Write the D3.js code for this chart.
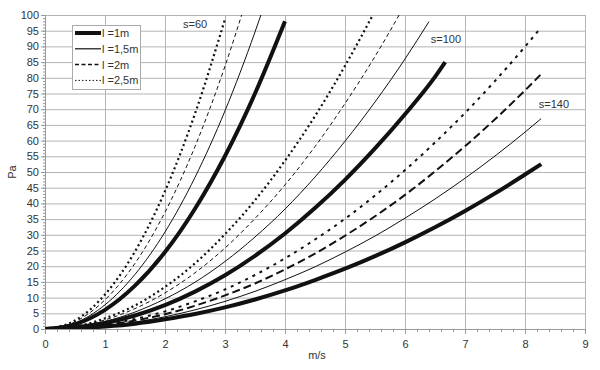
<!DOCTYPE html>
<html>
<head>
<meta charset="utf-8">
<script src="https://cdn.jsdelivr.net/npm/d3@7"></script>
<style>
  body { margin: 0; background: #fff; }
  text { font-family: "Liberation Sans", Arial, sans-serif; fill: #333; }
</style>
</head>
<body>
<div id="chart"></div>
<script>
// pressure drop (Pa) against speed (m/s)
var s60_l1  = [[0,0],[0.5,1.5],[1,6.1],[1.5,13.8],[2,24.5],[2.5,38.3],[3,55.1],[3.5,75],[4,98]];
var s60_l15 = [[0,0],[0.5,1.9],[1,7.7],[1.5,17.4],[2,30.9],[2.5,48.3],[3,69.5],[3.5,94.6],[3.7,105.7]];
var s60_l2  = [[0,0],[0.5,2.3],[1,9.3],[1.5,20.9],[2,37.2],[2.5,58.1],[3,83.7],[3.4,107.5]];
var s60_l25 = [[0,0],[0.5,2.7],[1,11],[1.5,24.7],[2,43.9],[2.5,68.6],[3,98.7]];

var s100_l1  = [[0,0],[0.5,0.5],[1,1.9],[1.5,4.3],[2,7.6],[2.5,11.9],[3,17.1],[3.5,23.3],[4,30.4],[4.5,38.5],[5,47.5],[5.5,57.5],[6,68.4],[6.5,80.3],[6.67,85]];
var s100_l15 = [[0,0],[0.5,0.6],[1,2.4],[1.5,5.4],[2,9.6],[2.5,14.9],[3,21.5],[3.5,29.3],[4,38.2],[4.5,48.4],[5,59.8],[5.5,72.3],[6,86],[6.4,97.9]];
var s100_l2  = [[0,0],[0.5,0.7],[1,2.9],[1.5,6.5],[2,11.5],[2.5,17.9],[3,25.8],[3.5,35.2],[4,45.9],[4.5,58.1],[5,71.8],[5.5,86.8],[6,103.3]];
var s100_l25 = [[0,0],[0.5,0.8],[1,3.4],[1.5,7.5],[2,13.4],[2.5,20.9],[3,30.2],[3.5,41],[4,53.6],[4.5,67.8],[5,83.8],[5.5,101.3]];

var s140_l1  = [[0,0],[0.5,0.2],[1,0.8],[1.5,1.7],[2,3.1],[2.5,4.8],[3,6.9],[3.5,9.4],[4,12.3],[4.5,15.6],[5,19.2],[5.5,23.2],[6,27.6],[6.5,32.4],[7,37.6],[7.5,43.2],[8,49.2],[8.27,52.5]];
var s140_l15 = [[0,0],[0.5,0.2],[1,1],[1.5,2.2],[2,3.9],[2.5,6.1],[3,8.8],[3.5,12],[4,15.7],[4.5,19.8],[5,24.5],[5.5,29.6],[6,35.3],[6.5,41.4],[7,48],[7.5,55.1],[8,62.7],[8.27,67]];
var s140_l2  = [[0,0],[0.5,0.3],[1,1.2],[1.5,2.7],[2,4.7],[2.5,7.4],[3,10.7],[3.5,14.5],[4,19],[4.5,24],[5,29.7],[5.5,35.9],[6,42.7],[6.5,50.2],[7,58.2],[7.5,66.8],[8,76],[8.27,81.2]];
var s140_l25 = [[0,0],[0.5,0.4],[1,1.4],[1.5,3.2],[2,5.6],[2.5,8.8],[3,12.6],[3.5,17.2],[4,22.5],[4.5,28.5],[5,35.1],[5.5,42.5],[6,50.6],[6.5,59.4],[7,68.8],[7.5,79],[8,89.9],[8.27,96.1]];

var lengths = ["l =1m", "l =1,5m", "l =2m", "l =2,5m"];
var groupLabels = ["s=60", "s=100", "s=140"];
var xTicks = [0,1,2,3,4,5,6,7,8,9];
var yTicks = [0,5,10,15,20,25,30,35,40,45,50,55,60,65,70,75,80,85,90,95,100];

var margin = {top: 15, right: 15, bottom: 41, left: 45},
    width = 540,
    height = 314;

var svg = d3.select("#chart")
    .append("svg")
    .attr("width", 600)
    .attr("height", 370);

var g = svg.append("g")
    .attr("transform", "translate(" + margin.left + "," + margin.top + ")");

var x = d3.scaleLinear().domain([0, 9]).range([0, width]);
var y = d3.scaleLinear().domain([0, 100]).range([height, 0]);

// grid
g.selectAll(".hgrid").data(yTicks).enter().append("line")
    .attr("x1", 0).attr("x2", width)
    .attr("y1", function (d) { return y(d) + 0.5; })
    .attr("y2", function (d) { return y(d) + 0.5; })
    .attr("stroke", "#b4b4b4").attr("stroke-width", 1);
g.selectAll(".vgrid").data(xTicks).enter().append("line")
    .attr("y1", 0).attr("y2", height)
    .attr("x1", function (d) { return x(d) + 0.5; })
    .attr("x2", function (d) { return x(d) + 0.5; })
    .attr("stroke", "#b4b4b4").attr("stroke-width", 1);

// axes
var xAxis = d3.axisBottom(x).tickValues(xTicks).tickSize(5).tickPadding(6);
g.append("g").attr("transform", "translate(0," + height + ")").call(xAxis);
var xMinor = d3.axisBottom(x).tickValues(d3.range(0, 45).map(function (i) { return i / 5; }))
    .tickSize(3).tickFormat("");
g.append("g").attr("transform", "translate(0," + height + ")").call(xMinor);

var yAxis = d3.axisLeft(y).tickValues(yTicks).tickSize(4).tickPadding(2);
g.append("g").call(yAxis);
var yMinor = d3.axisLeft(y).tickValues(d3.range(0, 101)).tickSize(2).tickFormat("");
g.append("g").call(yMinor);

g.selectAll(".domain, .tick line").attr("stroke", "#999");
g.selectAll(".tick text").attr("font-size", 11).attr("fill", "#333")
    .attr("font-family", "Liberation Sans, Arial, sans-serif");

// clip at 100 Pa
g.append("clipPath").attr("id", "clip")
    .append("rect").attr("x", 0).attr("y", 0).attr("width", width).attr("height", height);

var styles = [
    {w: 4, dash: null},
    {w: 1, dash: null},
    {w: 1, dash: "4,3"},
    {w: 2.2, dash: "2,3"}
];
var heavy = [
    {w: 4, dash: null},
    {w: 1, dash: null},
    {w: 2, dash: "8,4"},
    {w: 2, dash: "3,5"}
];

var series = [
    {d: s60_l1, st: styles[0]}, {d: s60_l15, st: styles[1]}, {d: s60_l2, st: styles[2]}, {d: s60_l25, st: styles[3]},
    {d: s100_l1, st: styles[0]}, {d: s100_l15, st: styles[1]}, {d: s100_l2, st: styles[2]}, {d: s100_l25, st: styles[3]},
    {d: s140_l1, st: heavy[0]}, {d: s140_l15, st: heavy[1]}, {d: s140_l2, st: heavy[2]}, {d: s140_l25, st: heavy[3]}
];

var line = d3.line()
    .curve(d3.curveMonotoneX)
    .x(function (d) { return x(d[0]); })
    .y(function (d) { return y(d[1]); });

g.append("g").attr("clip-path", "url(#clip)")
    .selectAll("path").data(series).enter().append("path")
    .attr("fill", "none")
    .attr("stroke", "#111")
    .attr("stroke-width", function (d) { return d.st.w; })
    .attr("stroke-dasharray", function (d) { return d.st.dash; })
    .attr("d", function (d) { return line(d.d); });

// group labels
var labelPos = [[2.3, 96], [6.43, 91], [8.23, 70.4]];
g.selectAll(".glabel").data(groupLabels).enter().append("text")
    .attr("x", function (d, i) { return x(labelPos[i][0]); })
    .attr("y", function (d, i) { return y(labelPos[i][1]); })
    .attr("font-size", 11)
    .text(function (d) { return d; });

// legend
var leg = g.append("g").attr("transform", "translate(27,10)");
leg.append("rect").attr("x", 0.5).attr("y", 0.5).attr("width", 68).attr("height", 64)
    .attr("fill", "#fff").attr("stroke", "#aaa");
var items = leg.selectAll(".item").data(lengths).enter().append("g")
    .attr("transform", function (d, i) { return "translate(0," + (8 + i * 15.8) + ")"; });
items.append("line")
    .attr("x1", 3).attr("x2", 29).attr("y1", 0).attr("y2", 0)
    .attr("stroke", "#111")
    .attr("stroke-width", function (d, i) { return [4, 1.2, 1.5, 1][i]; })
    .attr("stroke-dasharray", function (d, i) { return [null, null, "4,2.5", "1.5,2"][i]; });
items.append("text").attr("x", 30).attr("y", 4).attr("font-size", 11)
    .text(function (d) { return d; });

// axis titles
svg.append("text").attr("x", 317).attr("y", 359).attr("font-size", 11)
    .attr("text-anchor", "middle").text("m/s");
svg.append("text").attr("transform", "translate(16,172) rotate(-90)")
    .attr("font-size", 11).attr("text-anchor", "middle").text("Pa");
</script>
</body>
</html>
